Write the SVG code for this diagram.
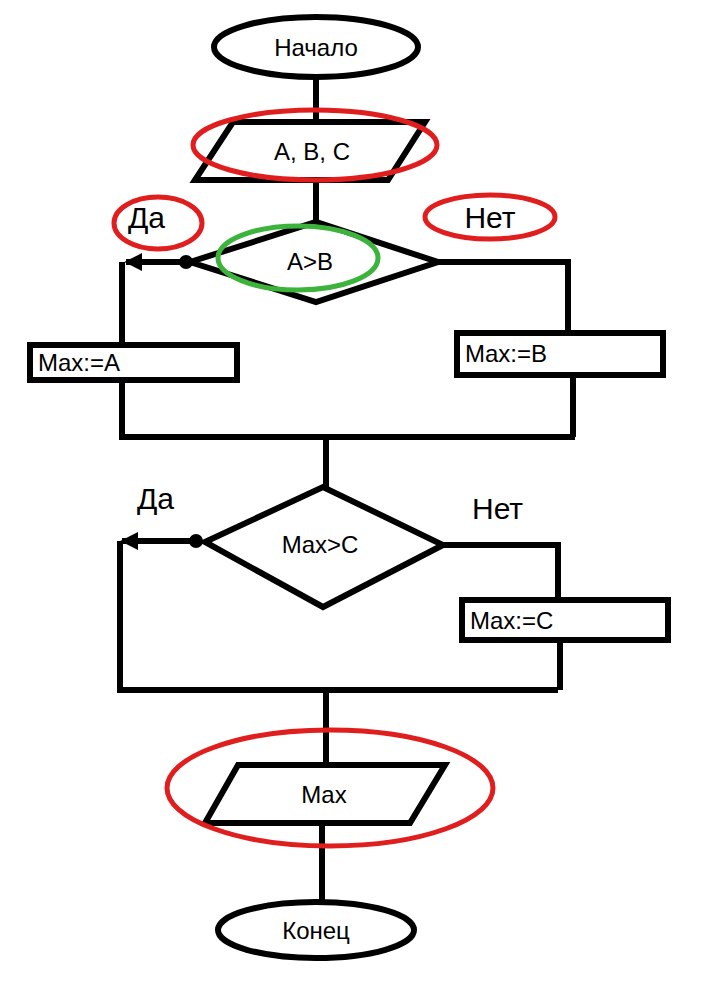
<svg xmlns="http://www.w3.org/2000/svg" width="706" height="988" viewBox="0 0 706 988">
<style>
.s{fill:#fff;stroke:#000;stroke-width:6}
.l{fill:none;stroke:#000;stroke-width:6}
.r{fill:none;stroke:#e01e1e;stroke-width:5}
.g{fill:none;stroke:#3cb43c;stroke-width:5}
text{font-family:"Liberation Sans",Arial,sans-serif;font-size:24px;fill:#000}
.m{text-anchor:middle}
.b{font-size:30px}
</style>
<defs><marker id="a" viewBox="0 0 10 10" refX="9" refY="5" markerWidth="3" markerHeight="3" orient="auto"><path d="M0,0L10,5L0,10z"/></marker></defs>
<rect width="706" height="988" fill="#fff"/>
<g id="connectors">
<path class="l" d="M316,77V122M316,180V222M326,437V487M326,690V765M322,823V903"/>
<path class="l" d="M186,262H126" marker-end="url(#a)"/>
<path class="l" d="M122,262V345M122,380V437H575M573,375V437"/>
<path class="l" d="M438,262H568V333"/>
<path class="l" d="M196,541H122" marker-end="url(#a)"/>
<path class="l" d="M120,541V690H558M443,545H558V600M560,640V690"/>
<circle cx="186" cy="262" r="7"/><circle cx="196" cy="541" r="7"/>
</g>
<g id="start"><ellipse class="s" cx="316" cy="47" rx="102" ry="30"/><text class="m" x="316" y="56">Начало</text></g>
<g id="input"><path class="s" d="M233,122H425L388,180H195Z"/><text class="m" x="312" y="160">A, B, C</text><ellipse class="r" cx="315" cy="145" rx="122" ry="35"/></g>
<g id="d1"><path class="s" d="M190,262L316,222L438,262L316,302Z"/><text class="m" x="310" y="270">A&gt;B</text><ellipse class="g" cx="298" cy="258" rx="80" ry="32"/></g>
<g id="yes1"><text class="b" x="128" y="228">Да</text><ellipse class="r" cx="158" cy="223" rx="44" ry="26"/></g>
<g id="no1"><text class="b m" x="490" y="228">Нет</text><ellipse class="r" cx="490" cy="217" rx="65" ry="22"/></g>
<g id="maxA"><rect class="s" x="30" y="345" width="207" height="35"/><text x="38" y="371">Max:=A</text></g>
<g id="maxB"><rect class="s" x="457" y="333" width="206" height="42"/><text x="465" y="362">Max:=B</text></g>
<g id="d2"><path class="s" d="M205,542L323,487L443,545L323,607Z"/><text class="m" x="320" y="553">Max&gt;C</text></g>
<g id="yes2"><text class="b" x="137" y="509">Да</text></g>
<g id="no2"><text class="b" x="472" y="519">Нет</text></g>
<g id="maxC"><rect class="s" x="462" y="600" width="206" height="40"/><text x="470" y="629">Max:=C</text></g>
<g id="output"><path class="s" d="M238,765H445L410,823H205Z"/><text class="m" x="324" y="803">Max</text><ellipse class="r" cx="330" cy="788" rx="163" ry="58"/></g>
<g id="end"><ellipse class="s" cx="316" cy="930" rx="98" ry="28"/><text class="m" x="316" y="939">Конец</text></g>
</svg>
